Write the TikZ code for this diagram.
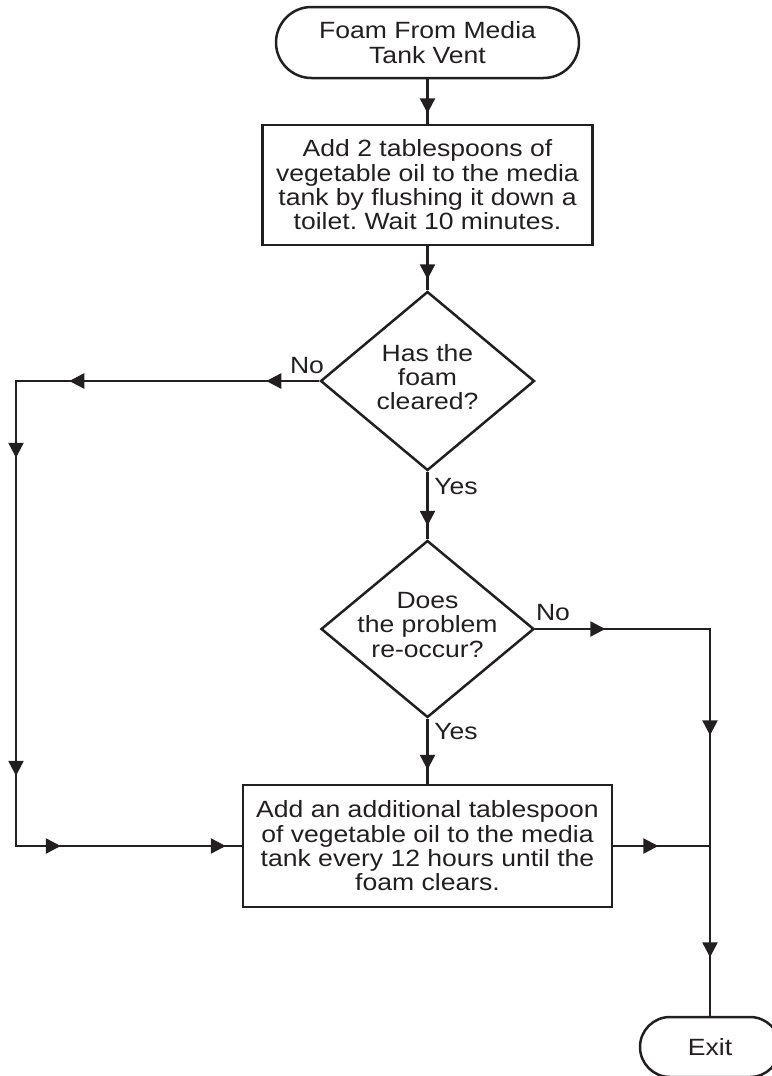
\documentclass[tikz,border=0pt]{standalone}
\usepackage{fontspec}
\setmainfont{Liberation Sans}[FakeStretch=1.13]
\usetikzlibrary{arrows.meta,decorations.markings,shapes.geometric}
\definecolor{ink}{HTML}{231F20}
\frenchspacing
\tikzset{
  txt/.style={font=\fontsize{23.5}{24.3}\selectfont, text=ink, align=center, inner sep=0pt},
  conn/.style={draw=ink, line width=2.5pt},
  procbox/.style={draw=ink, line width=2.5pt, rectangle, inner sep=0pt, align=center,
    font=\fontsize{23.5}{24.3}\selectfont, text=ink},
  termbox/.style={draw=ink, line width=2.5pt, rectangle, inner sep=0pt, align=center,
    font=\fontsize{23.5}{24.3}\selectfont, text=ink},
  dia/.style={draw=ink, line width=2.5pt, diamond, inner sep=0pt},
  mk/.style={postaction={decorate,decoration={markings,
    mark=at position #1 with {\arrow{Triangle[length=15pt,width=15pt]}}}}}
}
\begin{document}
\begin{tikzpicture}[x=1pt,y=-1pt]
\useasboundingbox (0,0) rectangle (771,1076);
% nodes
\node[termbox, rounded corners=35.5pt, minimum width=303pt, minimum height=71pt] (start) at (427.5,42.5) {Foam From Media\\Tank Vent};
\node[procbox, minimum width=330pt, minimum height=120pt] (box1) at (427.5,185) {Add 2 tablespoons of\\vegetable oil to the media\\tank by flushing it down a\\toilet. Wait 10 minutes.};
\node[dia, minimum width=214pt, minimum height=179pt] (d1) at (427.5,381) {};
\node[txt] (d1t) at (427.5,377) {Has the\\foam\\cleared?};
\node[dia, minimum width=213pt, minimum height=177pt] (d2) at (427.5,629) {};
\node[txt] (d2t) at (427.5,625) {Does\\the problem\\re-occur?};
\node[procbox, minimum width=369pt, minimum height=122pt] (box2) at (427.5,846) {Add an additional tablespoon\\of vegetable oil to the media\\tank every 12 hours until the\\foam clears.};
\node[termbox, rounded corners=30pt, minimum width=140pt, minimum height=60pt] (exit) at (710,1047) {Exit};
% corner coordinates
\coordinate (c1) at (16,381);
\coordinate (c2) at (16,846);
\coordinate (c3) at (710,629);
\coordinate (c4) at (710,846);
% connectors
\draw[conn, mk=34pt] (start) -- (box1);
\draw[conn, mk=33pt] (box1) -- (d1);
\draw[conn, mk=53pt, mk=250pt, mk=380pt, mk=698pt, mk=813pt, mk=978pt] (d1.west) -- (c1) -- (c2) -- (box2.west);
\draw[conn, mk=54pt] (d1.south) -- (d2.north);
\draw[conn, mk=51pt] (d2.south) -- (box2.north);
\draw[conn, mk=70pt, mk=281pt, mk=503pt] (d2.east) -- (c3) -- (exit.north);
\draw[conn, mk=45pt] (box2.east) -- (c4);
% labels
\node[txt] (no1) at (307,366) {No};
\node[txt] (yes1) at (456,487) {Yes};
\node[txt] (no2) at (553,613) {No};
\node[txt] (yes2) at (456,732) {Yes};
\end{tikzpicture}
\end{document}
